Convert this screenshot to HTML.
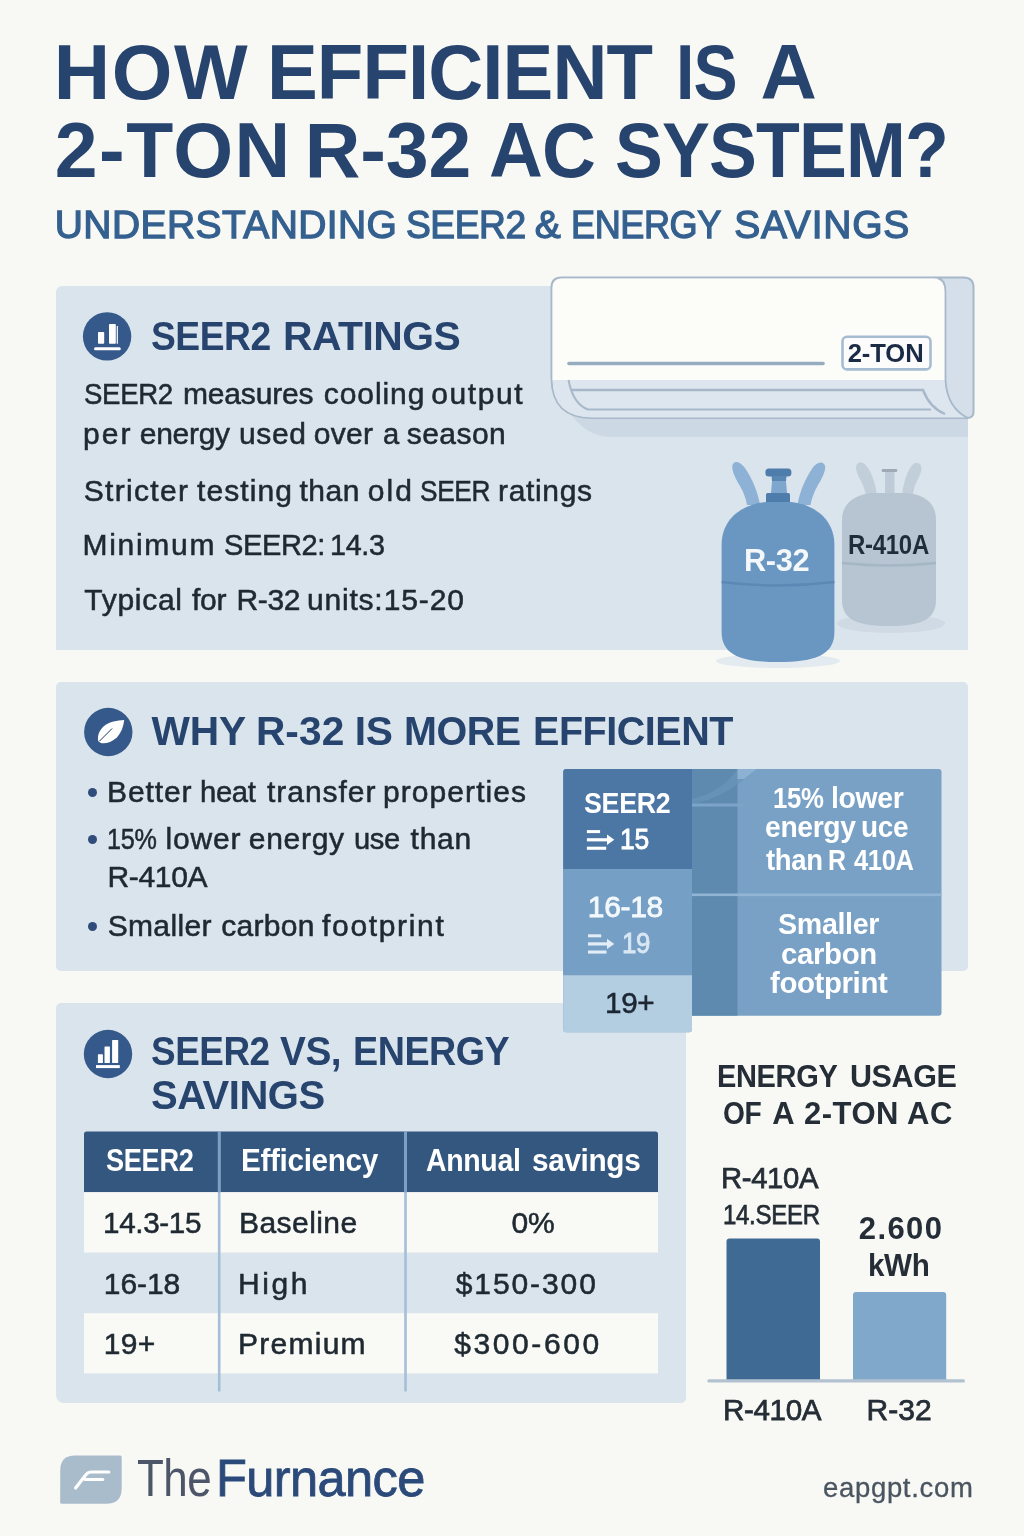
<!DOCTYPE html>
<html lang="en"><head><meta charset="utf-8"><title>How Efficient Is a 2-Ton R-32 AC System?</title>
<style>
html,body{margin:0;padding:0;}
body{width:1024px;height:1536px;background:#f8f8f5;overflow:hidden;position:relative;font-family:"Liberation Sans",sans-serif;}
.t{position:absolute;white-space:nowrap;line-height:1;margin:0;padding:0;}
.p{position:absolute;background:#dae4ec;}
.b{position:absolute;}
svg{position:absolute;left:0;top:0;overflow:visible;}
</style></head><body>
<div class="p" style="left:56.3px;top:286px;width:911.4px;height:363.8px;border-radius:6px 0 0 0;"></div>
<div class="p" style="left:56.3px;top:682px;width:911.4px;height:289.1px;border-radius:5px;"></div>
<div class="p" style="left:56.3px;top:1003.2px;width:629.3px;height:399.8px;border-radius:5px 5px 5px 8px;"></div>
<svg width="1024" height="1536" viewBox="0 0 1024 1536">
<!-- AC unit -->
<path d="M572 416 H968 V437 H612 Q588 437 572 416Z" fill="#ccd8e4"/>
<path d="M561.5 277.5 H963.5 Q973.5 277.5 973.5 287.5 V412 Q973.5 418 967 418 H592 Q552 418 551.5 378 V287.5 Q551.5 277.5 561.5 277.5Z" fill="#d5dfe9" stroke="#a7b8ca" stroke-width="2"/>
<path d="M552.5 380 V288 Q552.5 278.5 562 278.5 H933 Q945 279 945.5 292 V380 Z" fill="#fcfcf9"/>
<path d="M552.5 380 H945.5 Q947 408 968 417.5 H592 Q553 417 552.5 380Z" fill="#dde6ee"/>
<path d="M938.5 278.5 Q945.5 280 945.5 292 V380 Q947 408 968 418" fill="none" stroke="#a7b8ca" stroke-width="1.8"/>
<path d="M568.5 380 Q573 404 588 409.5 H931" fill="none" stroke="#a7b8ca" stroke-width="2"/>
<path d="M571 390 H923 Q930 408 945 414" fill="none" stroke="#a7b8ca" stroke-width="2.4"/>
<path d="M569 363.5 H823" stroke="#97abc1" stroke-width="3.6" stroke-linecap="round"/>
<rect x="842.5" y="336.8" width="88" height="32.6" rx="4.5" fill="#fbfcfb" stroke="#a6bcd2" stroke-width="2.6"/>
<!-- R-410A canister -->
<ellipse cx="891" cy="623.5" rx="54" ry="9.5" fill="#cfdae5"/>
<path d="M859.5 462.5 C853 465, 857 474, 861 481 C864 487, 865 491, 866 496 H877 C876 486, 873 476, 868 468 C865.5 464, 862 461.5, 859.5 462.5Z" fill="#c2cfdb"/>
<path d="M918 463 C924 465, 921 474, 917 481 C914 487, 913.5 491, 913 496 H902 C903 486, 905.5 476, 910 468 C912.5 464, 915.5 462, 918 463Z" fill="#c2cfdb"/>
<rect x="885" y="470" width="9.5" height="24" fill="#bfccd8"/>
<rect x="881.7" y="469" width="15.5" height="3" rx="1" fill="#9fa9b6"/>
<path d="M842 520 C842 500, 860 494, 872 493 H906 C920 494, 936 500, 936 520 V600 C936 620, 920 626, 889 626 C858 626, 842 620, 842 600Z" fill="#b6c5d1"/>
<path d="M842 563 Q889 568 936 563" fill="none" stroke="#a5b6c5" stroke-width="2.6"/>
<!-- R-32 canister -->
<ellipse cx="778" cy="661" rx="62" ry="7" fill="#e3eaf0"/>
<path d="M735 462.3 C729 465, 734 476, 740 486 C744 493, 746 499, 747 505 H760 C758 492, 752 478, 745 468 C742 464, 738 461, 735 462.3Z" fill="#8db2d6"/>
<path d="M822.5 463 C828.5 465.5, 823.5 476, 817.5 486 C813.5 493, 811.5 499, 810.5 505 H797.5 C799.5 492, 805.5 478, 812.5 468 C815.5 464, 819.5 461.5, 822.5 463Z" fill="#8db2d6"/>
<rect x="765.4" y="468.4" width="26" height="8" rx="3.5" fill="#4f7dab"/>
<path d="M772.5 476 H785.5 L787 493 H771Z" fill="#7fa6cc"/>
<path d="M771.5 476 H786.5 L786 481 H772Z" fill="#5a86b3"/>
<rect x="766" y="493" width="24" height="11" rx="1.5" fill="#4f7dab"/>
<path d="M721.6 545 C721.6 515, 748 503, 766 502 H790 C808 503, 834.4 515, 834.4 545 V632 C834.4 655, 815 662, 778 662 C741 662, 721.6 655, 721.6 632Z" fill="#6a97c2"/>
<path d="M721.6 582 Q778 589 834.4 582" fill="none" stroke="#5b88b4" stroke-width="2.6"/>
<!-- icons -->
<circle cx="107.1" cy="336.4" r="24.2" fill="#34598a"/>
<rect x="98" y="332" width="6.2" height="11.8" rx="0.8" fill="#fff"/>
<rect x="109" y="324" width="6.8" height="19.8" rx="0.8" fill="#fff"/>
<rect x="116.7" y="326" width="1.2" height="17.8" fill="#fff"/>
<rect x="94" y="347.2" width="26.8" height="3" rx="1.5" fill="#fff"/>
<circle cx="108.3" cy="732" r="24.2" fill="#34598a"/>
<path d="M98.2 741 C97 735, 100 729.5, 104 726 C109.5 721.5, 117 720.5, 124.2 720 C123.5 727, 121 733, 116.9 737.5 C112 742, 105.5 744, 101.7 743.2 C100 742.8, 99 742, 98.2 741 Z" fill="#fff"/>
<path d="M99.6 741 L111.8 728.8" stroke="#1f3a63" stroke-width="1" stroke-linecap="round"/>
<circle cx="108" cy="1054" r="24.2" fill="#34598a"/>
<rect x="97.9" y="1054.3" width="5" height="8.7" rx="0.6" fill="#fff"/>
<rect x="104.5" y="1046.4" width="5.4" height="16.6" rx="0.6" fill="#fff"/>
<rect x="112.1" y="1040" width="6.1" height="23" rx="0.6" fill="#fff"/>
<rect x="96" y="1065.1" width="23.8" height="3" fill="#fff"/>
</svg>

<div class="t" style="left:53.73px;top:33.37px;font-size:78.00px;letter-spacing:1.625px;color:#27446e;font-weight:700;">HOW</div>
<div class="t" style="left:267.36px;top:33.37px;font-size:78.00px;letter-spacing:-0.936px;color:#27446e;font-weight:700;transform:scaleX(0.9760);transform-origin:0 0;">EFFICIENT</div>
<div class="t" style="left:675.54px;top:33.37px;font-size:78.00px;letter-spacing:-0.936px;color:#27446e;font-weight:700;transform:scaleX(0.8464);transform-origin:0 0;">IS</div>
<div class="t" style="left:760.55px;top:33.37px;font-size:78.00px;letter-spacing:0.000px;color:#27446e;font-weight:700;">A</div>
<div class="t" style="left:54.80px;top:111.82px;font-size:77.00px;letter-spacing:1.435px;color:#27446e;font-weight:700;">2-TON</div>
<div class="t" style="left:304.80px;top:111.82px;font-size:77.00px;letter-spacing:-0.104px;color:#27446e;font-weight:700;">R-32</div>
<div class="t" style="left:489.13px;top:111.82px;font-size:77.00px;letter-spacing:-0.924px;color:#27446e;font-weight:700;transform:scaleX(0.9690);transform-origin:0 0;">AC</div>
<div class="t" style="left:615.35px;top:111.82px;font-size:77.00px;letter-spacing:-0.924px;color:#27446e;font-weight:700;transform:scaleX(0.9321);transform-origin:0 0;">SYSTEM?</div>
<div class="t" style="left:54.78px;top:205.19px;font-size:39.00px;letter-spacing:0.408px;color:#34608f;-webkit-text-stroke:1.3px #34608f;">UNDERSTANDING</div>
<div class="t" style="left:405.83px;top:205.19px;font-size:39.00px;letter-spacing:-0.468px;color:#34608f;-webkit-text-stroke:1.3px #34608f;transform:scaleX(0.9530);transform-origin:0 0;">SEER2</div>
<div class="t" style="left:534.63px;top:205.19px;font-size:39.00px;letter-spacing:0.000px;color:#34608f;-webkit-text-stroke:1.3px #34608f;">&amp;</div>
<div class="t" style="left:570.52px;top:205.19px;font-size:39.00px;letter-spacing:-0.468px;color:#34608f;-webkit-text-stroke:1.3px #34608f;transform:scaleX(0.9258);transform-origin:0 0;">ENERGY</div>
<div class="t" style="left:734.25px;top:205.19px;font-size:39.00px;letter-spacing:0.747px;color:#34608f;-webkit-text-stroke:1.3px #34608f;">SAVINGS</div>
<div class="t" style="left:150.88px;top:316.15px;font-size:41.40px;letter-spacing:-0.497px;color:#27446e;font-weight:700;transform:scaleX(0.8991);transform-origin:0 0;">SEER2</div>
<div class="t" style="left:283.14px;top:316.15px;font-size:41.40px;letter-spacing:-0.497px;color:#27446e;font-weight:700;transform:scaleX(0.9865);transform-origin:0 0;">RATINGS</div>
<div class="t" style="left:83.76px;top:379.11px;font-size:30.00px;letter-spacing:-0.360px;color:#1f2931;-webkit-text-stroke:0.55px #1f2931;transform:scaleX(0.9199);transform-origin:0 0;">SEER2</div>
<div class="t" style="left:182.97px;top:379.11px;font-size:30.00px;letter-spacing:-0.161px;color:#1f2931;-webkit-text-stroke:0.55px #1f2931;">measures</div>
<div class="t" style="left:323.73px;top:379.11px;font-size:30.00px;letter-spacing:0.938px;color:#1f2931;-webkit-text-stroke:0.55px #1f2931;">cooling</div>
<div class="t" style="left:431.23px;top:379.11px;font-size:30.00px;letter-spacing:1.580px;color:#1f2931;-webkit-text-stroke:0.55px #1f2931;">output</div>
<div class="t" style="left:83.05px;top:419.11px;font-size:30.00px;letter-spacing:2.025px;color:#1f2931;-webkit-text-stroke:0.55px #1f2931;">per</div>
<div class="t" style="left:139.72px;top:419.11px;font-size:30.00px;letter-spacing:-0.275px;color:#1f2931;-webkit-text-stroke:0.55px #1f2931;">energy</div>
<div class="t" style="left:239.05px;top:419.11px;font-size:30.00px;letter-spacing:0.600px;color:#1f2931;-webkit-text-stroke:0.55px #1f2931;">used</div>
<div class="t" style="left:313.73px;top:419.11px;font-size:30.00px;letter-spacing:0.292px;color:#1f2931;-webkit-text-stroke:0.55px #1f2931;">over</div>
<div class="t" style="left:382.76px;top:419.11px;font-size:30.00px;letter-spacing:-0.360px;color:#1f2931;-webkit-text-stroke:0.55px #1f2931;transform:scaleX(0.9709);transform-origin:0 0;">a</div>
<div class="t" style="left:406.68px;top:419.11px;font-size:30.00px;letter-spacing:0.465px;color:#1f2931;-webkit-text-stroke:0.55px #1f2931;">season</div>
<div class="t" style="left:83.65px;top:476.11px;font-size:30.00px;letter-spacing:1.325px;color:#1f2931;-webkit-text-stroke:0.55px #1f2931;">Stricter</div>
<div class="t" style="left:197.05px;top:476.11px;font-size:30.00px;letter-spacing:1.079px;color:#1f2931;-webkit-text-stroke:0.55px #1f2931;">testing</div>
<div class="t" style="left:299.55px;top:476.11px;font-size:30.00px;letter-spacing:0.492px;color:#1f2931;-webkit-text-stroke:0.55px #1f2931;">than</div>
<div class="t" style="left:367.73px;top:476.11px;font-size:30.00px;letter-spacing:2.087px;color:#1f2931;-webkit-text-stroke:0.55px #1f2931;">old</div>
<div class="t" style="left:419.82px;top:476.11px;font-size:30.00px;letter-spacing:-0.360px;color:#1f2931;-webkit-text-stroke:0.55px #1f2931;transform:scaleX(0.8738);transform-origin:0 0;">SEER</div>
<div class="t" style="left:498.05px;top:476.11px;font-size:30.00px;letter-spacing:0.654px;color:#1f2931;-webkit-text-stroke:0.55px #1f2931;">ratings</div>
<div class="t" style="left:82.53px;top:530.11px;font-size:30.00px;letter-spacing:1.712px;color:#1f2931;-webkit-text-stroke:0.55px #1f2931;">Minimum</div>
<div class="t" style="left:223.70px;top:530.11px;font-size:30.00px;letter-spacing:-0.360px;color:#1f2931;-webkit-text-stroke:0.55px #1f2931;transform:scaleX(0.9665);transform-origin:0 0;">SEER2:</div>
<div class="t" style="left:330.34px;top:530.11px;font-size:30.00px;letter-spacing:-0.360px;color:#1f2931;-webkit-text-stroke:0.55px #1f2931;transform:scaleX(0.9582);transform-origin:0 0;">14.3</div>
<div class="t" style="left:84.33px;top:584.90px;font-size:30.00px;letter-spacing:0.721px;color:#1f2931;-webkit-text-stroke:0.55px #1f2931;">Typical</div>
<div class="t" style="left:192.05px;top:584.90px;font-size:30.00px;letter-spacing:-0.313px;color:#1f2931;-webkit-text-stroke:0.55px #1f2931;">for</div>
<div class="t" style="left:236.53px;top:584.90px;font-size:30.00px;letter-spacing:-0.350px;color:#1f2931;-webkit-text-stroke:0.55px #1f2931;">R-32</div>
<div class="t" style="left:307.05px;top:584.90px;font-size:30.00px;letter-spacing:0.790px;color:#1f2931;-webkit-text-stroke:0.55px #1f2931;">units:</div>
<div class="t" style="left:383.75px;top:584.90px;font-size:30.00px;letter-spacing:0.863px;color:#1f2931;-webkit-text-stroke:0.55px #1f2931;">15-20</div>
<div class="t" style="left:847.70px;top:340.53px;font-size:25.60px;letter-spacing:-0.082px;color:#1c2b45;font-weight:700;">2-TON</div>
<div class="t" style="left:743.72px;top:545.16px;font-size:31.00px;letter-spacing:-0.372px;color:#f4f8fb;font-weight:700;transform:scaleX(0.9933);transform-origin:0 0;">R-32</div>
<div class="t" style="left:848.18px;top:531.74px;font-size:27.00px;letter-spacing:-0.324px;color:#1f2c3a;font-weight:700;transform:scaleX(0.8882);transform-origin:0 0;">R-410A</div>
<div class="t" style="left:151.50px;top:711.25px;font-size:40.70px;letter-spacing:-0.160px;color:#27446e;font-weight:700;">WHY</div>
<div class="t" style="left:255.95px;top:711.25px;font-size:40.70px;letter-spacing:0.052px;color:#27446e;font-weight:700;">R-32</div>
<div class="t" style="left:354.65px;top:711.25px;font-size:40.70px;letter-spacing:-0.186px;color:#27446e;font-weight:700;">IS</div>
<div class="t" style="left:403.73px;top:711.25px;font-size:40.70px;letter-spacing:-0.488px;color:#27446e;font-weight:700;transform:scaleX(0.9711);transform-origin:0 0;">MORE</div>
<div class="t" style="left:532.73px;top:711.25px;font-size:40.70px;letter-spacing:-0.488px;color:#27446e;font-weight:700;transform:scaleX(0.9712);transform-origin:0 0;">EFFICIENT</div>
<div class="t" style="left:107.03px;top:776.61px;font-size:30.00px;letter-spacing:0.880px;color:#1f2931;-webkit-text-stroke:0.55px #1f2931;">Better</div>
<div class="t" style="left:200.46px;top:776.61px;font-size:30.00px;letter-spacing:-0.360px;color:#1f2931;-webkit-text-stroke:0.55px #1f2931;transform:scaleX(0.9737);transform-origin:0 0;">heat</div>
<div class="t" style="left:267.05px;top:776.61px;font-size:30.00px;letter-spacing:0.957px;color:#1f2931;-webkit-text-stroke:0.55px #1f2931;">transfer</div>
<div class="t" style="left:383.05px;top:776.61px;font-size:30.00px;letter-spacing:1.064px;color:#1f2931;-webkit-text-stroke:0.55px #1f2931;">properties</div>
<div class="t" style="left:107.11px;top:824.00px;font-size:30.00px;letter-spacing:-0.360px;color:#1f2931;-webkit-text-stroke:0.55px #1f2931;transform:scaleX(0.8385);transform-origin:0 0;">15%</div>
<div class="t" style="left:165.47px;top:824.00px;font-size:30.00px;letter-spacing:0.819px;color:#1f2931;-webkit-text-stroke:0.55px #1f2931;">lower</div>
<div class="t" style="left:248.72px;top:824.00px;font-size:30.00px;letter-spacing:0.725px;color:#1f2931;-webkit-text-stroke:0.55px #1f2931;">energy</div>
<div class="t" style="left:354.11px;top:824.00px;font-size:30.00px;letter-spacing:-0.360px;color:#1f2931;-webkit-text-stroke:0.55px #1f2931;transform:scaleX(0.9695);transform-origin:0 0;">use</div>
<div class="t" style="left:410.55px;top:824.00px;font-size:30.00px;letter-spacing:0.758px;color:#1f2931;-webkit-text-stroke:0.55px #1f2931;">than</div>
<div class="t" style="left:107.53px;top:861.81px;font-size:30.00px;letter-spacing:-0.330px;color:#1f2931;-webkit-text-stroke:0.55px #1f2931;">R-410A</div>
<div class="t" style="left:107.65px;top:910.81px;font-size:30.00px;letter-spacing:0.350px;color:#1f2931;-webkit-text-stroke:0.55px #1f2931;">Smaller</div>
<div class="t" style="left:221.22px;top:910.81px;font-size:30.00px;letter-spacing:0.285px;color:#1f2931;-webkit-text-stroke:0.55px #1f2931;">carbon</div>
<div class="t" style="left:322.05px;top:910.81px;font-size:30.00px;letter-spacing:1.663px;color:#1f2931;-webkit-text-stroke:0.55px #1f2931;">footprint</div>
<div class="b" style="left:87.9px;top:787.5px;width:9.4px;height:9.4px;border-radius:50%;background:#2f4c7a;"></div>
<div class="b" style="left:87.9px;top:834.5px;width:9.4px;height:9.4px;border-radius:50%;background:#2f4c7a;"></div>
<div class="b" style="left:87.9px;top:921.6px;width:9.4px;height:9.4px;border-radius:50%;background:#2f4c7a;"></div>
<svg width="1024" height="1536" viewBox="0 0 1024 1536">
<path d="M563.2 772 Q563.2 769 566.2 769 H938.5 Q941.5 769 941.5 772 V1012.7 Q941.5 1015.7 938.5 1015.7 H692 V1029.3 Q692 1032.3 689 1032.3 H566.2 Q563.2 1032.3 563.2 1029.3Z" fill="#79a1c5"/>
<rect x="692" y="769" width="45.5" height="246.7" fill="#5e8ab0"/>
<path d="M563.2 772 Q563.2 769 566.2 769 H692 V869 H563.2Z" fill="#4c77a5"/>
<rect x="563.2" y="869" width="128.8" height="106.2" fill="#759fc4"/>
<path d="M563.2 975.2 H692 V1029.3 Q692 1032.3 689 1032.3 H566.2 Q563.2 1032.3 563.2 1029.3Z" fill="#b3cde1"/>
<path d="M692 803.5 Q722 800 757 769 L737.5 769 Q722 792 692 799Z" fill="#6a95bb" opacity="0.7"/>
<path d="M737.5 769 H757 L744 779 H737.5Z" fill="#8db1d2"/>
<rect x="692" y="803.5" width="52" height="3" fill="#7ca3c8"/>
<rect x="692" y="893.5" width="249.5" height="2.6" fill="#92b5d5"/>
<g fill="#fff">
<rect x="586.9" y="830.1" width="13.2" height="3"/>
<rect x="586.9" y="838.2" width="21" height="3.2"/>
<path d="M607 834.6 L614.3 839.8 L607 845Z"/>
<rect x="586.9" y="846.7" width="19.3" height="3.1"/>
</g>
<g fill="#e3edf6">
<rect x="588" y="934.3" width="13.2" height="3"/>
<rect x="588" y="942.3" width="20" height="3.2"/>
<path d="M607 938.7 L614.3 943.9 L607 949.1Z"/>
<rect x="588" y="950.5" width="18.5" height="3.1"/>
</g>
</svg>

<div class="t" style="left:584.40px;top:788.40px;font-size:30.00px;letter-spacing:-0.360px;color:#ffffff;font-weight:700;transform:scaleX(0.8939);transform-origin:0 0;">SEER2</div>
<div class="t" style="left:620.02px;top:824.11px;font-size:30.00px;letter-spacing:-0.360px;color:#ffffff;-webkit-text-stroke:0.85px #ffffff;transform:scaleX(0.8817);transform-origin:0 0;">15</div>
<div class="t" style="left:587.75px;top:891.61px;font-size:30.00px;letter-spacing:-0.300px;color:#f3f8fc;-webkit-text-stroke:0.85px #f3f8fc;">16-18</div>
<div class="t" style="left:622.06px;top:928.11px;font-size:30.00px;letter-spacing:-0.360px;color:#d9e7f3;-webkit-text-stroke:0.85px #d9e7f3;transform:scaleX(0.8623);transform-origin:0 0;">19</div>
<div class="t" style="left:604.77px;top:987.61px;font-size:30.00px;letter-spacing:-0.360px;color:#1c2733;-webkit-text-stroke:0.55px #1c2733;transform:scaleX(0.9902);transform-origin:0 0;">19+</div>
<div class="t" style="left:772.69px;top:783.21px;font-size:30.00px;letter-spacing:-0.360px;color:#ffffff;font-weight:700;transform:scaleX(0.8596);transform-origin:0 0;">15%</div>
<div class="t" style="left:830.61px;top:783.21px;font-size:30.00px;letter-spacing:-0.360px;color:#ffffff;font-weight:700;transform:scaleX(0.9464);transform-origin:0 0;">lower</div>
<div class="t" style="left:764.67px;top:812.00px;font-size:30.00px;letter-spacing:-0.360px;color:#ffffff;font-weight:700;transform:scaleX(0.9425);transform-origin:0 0;">energy</div>
<div class="t" style="left:860.75px;top:812.00px;font-size:30.00px;letter-spacing:-0.360px;color:#ffffff;font-weight:700;transform:scaleX(0.9313);transform-origin:0 0;">uce</div>
<div class="t" style="left:766.36px;top:844.50px;font-size:30.00px;letter-spacing:-0.360px;color:#ffffff;font-weight:700;transform:scaleX(0.9160);transform-origin:0 0;">than</div>
<div class="t" style="left:828.31px;top:844.50px;font-size:30.00px;letter-spacing:-0.360px;color:#ffffff;font-weight:700;transform:scaleX(0.8327);transform-origin:0 0;">R</div>
<div class="t" style="left:854.22px;top:844.50px;font-size:30.00px;letter-spacing:-0.360px;color:#ffffff;font-weight:700;transform:scaleX(0.8494);transform-origin:0 0;">410A</div>
<div class="t" style="left:778.14px;top:908.71px;font-size:30.00px;letter-spacing:-0.360px;color:#ffffff;font-weight:700;transform:scaleX(0.9548);transform-origin:0 0;">Smaller</div>
<div class="t" style="left:781.32px;top:938.61px;font-size:30.00px;letter-spacing:-0.360px;color:#ffffff;font-weight:700;transform:scaleX(0.9792);transform-origin:0 0;">carbon</div>
<div class="t" style="left:769.69px;top:967.90px;font-size:30.00px;letter-spacing:-0.360px;color:#ffffff;font-weight:700;transform:scaleX(0.9781);transform-origin:0 0;">footprint</div>
<div class="t" style="left:151.09px;top:1031.14px;font-size:40.00px;letter-spacing:-0.480px;color:#27446e;font-weight:700;transform:scaleX(0.9211);transform-origin:0 0;">SEER2</div>
<div class="t" style="left:279.81px;top:1031.14px;font-size:40.00px;letter-spacing:-0.480px;color:#27446e;font-weight:700;transform:scaleX(0.9696);transform-origin:0 0;">VS,</div>
<div class="t" style="left:352.66px;top:1031.14px;font-size:40.00px;letter-spacing:-0.480px;color:#27446e;font-weight:700;transform:scaleX(0.9411);transform-origin:0 0;">ENERGY</div>
<div class="t" style="left:151.00px;top:1075.04px;font-size:40.00px;letter-spacing:-0.480px;color:#27446e;font-weight:700;transform:scaleX(0.9993);transform-origin:0 0;">SAVINGS</div>
<svg width="1024" height="1536" viewBox="0 0 1024 1536">
<path d="M84 1134 Q84 1131.5 86.5 1131.5 H655.5 Q658 1131.5 658 1134 V1192.2 H84Z" fill="#34577f"/>
<rect x="84" y="1192.2" width="574" height="60.4" fill="#f9f9f6"/>
<rect x="84" y="1313.2" width="574" height="60.2" fill="#f9f9f6"/>
<rect x="217.9" y="1131.5" width="2.6" height="260" fill="#a6bfd8"/>
<rect x="404.2" y="1131.5" width="2.6" height="260" fill="#a6bfd8"/>
<rect x="217.9" y="1131.5" width="2.6" height="60.7" fill="#7b9fc5"/>
<rect x="404.2" y="1131.5" width="2.6" height="60.7" fill="#7b9fc5"/>
</svg>

<div class="t" style="left:106.19px;top:1144.76px;font-size:31.00px;letter-spacing:-0.372px;color:#ffffff;font-weight:700;transform:scaleX(0.8763);transform-origin:0 0;">SEER2</div>
<div class="t" style="left:240.99px;top:1144.76px;font-size:31.00px;letter-spacing:-0.372px;color:#ffffff;font-weight:700;transform:scaleX(0.9588);transform-origin:0 0;">Efficiency</div>
<div class="t" style="left:426.19px;top:1144.76px;font-size:31.00px;letter-spacing:-0.372px;color:#ffffff;font-weight:700;transform:scaleX(0.9191);transform-origin:0 0;">Annual</div>
<div class="t" style="left:531.96px;top:1144.76px;font-size:31.00px;letter-spacing:-0.372px;color:#ffffff;font-weight:700;transform:scaleX(0.9599);transform-origin:0 0;">savings</div>
<div class="t" style="left:103.18px;top:1207.90px;font-size:30.00px;letter-spacing:-0.360px;color:#1f2931;-webkit-text-stroke:0.55px #1f2931;transform:scaleX(0.9887);transform-origin:0 0;">14.3-15</div>
<div class="t" style="left:238.93px;top:1207.90px;font-size:30.00px;letter-spacing:0.457px;color:#1f2931;-webkit-text-stroke:0.55px #1f2931;">Baseline</div>
<div class="t" style="left:511.40px;top:1208.11px;font-size:30.00px;letter-spacing:0.000px;color:#1f2931;-webkit-text-stroke:0.55px #1f2931;">0%</div>
<div class="t" style="left:103.75px;top:1269.40px;font-size:30.00px;letter-spacing:-0.050px;color:#1f2931;-webkit-text-stroke:0.55px #1f2931;">16-18</div>
<div class="t" style="left:238.12px;top:1269.40px;font-size:30.00px;letter-spacing:2.533px;color:#1f2931;-webkit-text-stroke:0.55px #1f2931;">High</div>
<div class="t" style="left:455.70px;top:1269.40px;font-size:30.00px;letter-spacing:1.911px;color:#1f2931;-webkit-text-stroke:0.55px #1f2931;">$150-300</div>
<div class="t" style="left:103.75px;top:1329.20px;font-size:30.00px;letter-spacing:0.313px;color:#1f2931;-webkit-text-stroke:0.55px #1f2931;">19+</div>
<div class="t" style="left:238.12px;top:1329.20px;font-size:30.00px;letter-spacing:1.238px;color:#1f2931;-webkit-text-stroke:0.55px #1f2931;">Premium</div>
<div class="t" style="left:454.20px;top:1329.20px;font-size:30.00px;letter-spacing:2.596px;color:#1f2931;-webkit-text-stroke:0.55px #1f2931;">$300-600</div>
<svg width="1024" height="1536" viewBox="0 0 1024 1536">
<path d="M726.5 1241.6 Q726.5 1238.6 729.5 1238.6 H817 Q820 1238.6 820 1241.6 V1380 H726.5Z" fill="#3f6a94"/>
<path d="M853 1295 Q853 1292 856 1292 H943.2 Q946.2 1292 946.2 1295 V1380 H853Z" fill="#7fa8cb"/>
<rect x="707.3" y="1379.3" width="257.7" height="3.2" rx="1.6" fill="#b3c2d0"/>
</svg>

<div class="t" style="left:716.74px;top:1061.26px;font-size:31.00px;letter-spacing:-0.372px;color:#252d36;font-weight:700;transform:scaleX(0.9359);transform-origin:0 0;">ENERGY</div>
<div class="t" style="left:850.17px;top:1061.26px;font-size:31.00px;letter-spacing:-0.372px;color:#252d36;font-weight:700;transform:scaleX(0.9821);transform-origin:0 0;">USAGE</div>
<div class="t" style="left:722.87px;top:1097.96px;font-size:31.00px;letter-spacing:-0.372px;color:#252d36;font-weight:700;transform:scaleX(0.9078);transform-origin:0 0;">OF</div>
<div class="t" style="left:772.23px;top:1097.96px;font-size:31.00px;letter-spacing:0.000px;color:#252d36;font-weight:700;">A</div>
<div class="t" style="left:803.91px;top:1097.96px;font-size:31.00px;letter-spacing:0.530px;color:#252d36;font-weight:700;">2-TON</div>
<div class="t" style="left:907.02px;top:1097.96px;font-size:31.00px;letter-spacing:0.533px;color:#252d36;font-weight:700;">AC</div>
<div class="t" style="left:720.89px;top:1162.81px;font-size:30.00px;letter-spacing:-0.360px;color:#252d36;-webkit-text-stroke:0.75px #252d36;transform:scaleX(0.9748);transform-origin:0 0;">R-410A</div>
<div class="t" style="left:723.20px;top:1200.27px;font-size:28.50px;letter-spacing:-0.342px;color:#252d36;-webkit-text-stroke:0.75px #252d36;transform:scaleX(0.8418);transform-origin:0 0;">14.SEER</div>
<div class="t" style="left:858.71px;top:1213.46px;font-size:31.00px;letter-spacing:1.437px;color:#252d36;font-weight:700;">2.600</div>
<div class="t" style="left:868.43px;top:1249.76px;font-size:31.00px;letter-spacing:-0.372px;color:#252d36;font-weight:700;transform:scaleX(0.9549);transform-origin:0 0;">kWh</div>
<div class="t" style="left:723.36px;top:1395.20px;font-size:30.00px;letter-spacing:-0.360px;color:#252d36;-webkit-text-stroke:0.75px #252d36;transform:scaleX(0.9851);transform-origin:0 0;">R-410A</div>
<div class="t" style="left:866.52px;top:1395.20px;font-size:30.00px;letter-spacing:0.050px;color:#252d36;-webkit-text-stroke:0.75px #252d36;">R-32</div>
<div class="t" style="left:823.03px;top:1474.12px;font-size:27.50px;letter-spacing:0.674px;color:#4a5560;-webkit-text-stroke:0.3px #4a5560;">eapgpt.com</div>
<svg width="1024" height="1536" viewBox="0 0 1024 1536">
<path d="M75.2 1455.5 H120.2 Q121.7 1455.5 121.7 1457 V1488.2 Q121.7 1503.8 106.1 1503.8 H61.7 Q60.2 1503.8 60.2 1502.3 V1470.5 Q60.2 1455.5 75.2 1455.5Z" fill="#a9bccb"/>
<path d="M108.8 1472 H91 Q88 1472 86.3 1474.2 L75.6 1488" fill="none" stroke="#fff" stroke-width="3.2" stroke-linecap="round" stroke-linejoin="round"/>
<path d="M85 1479.4 H102.8" fill="none" stroke="#fff" stroke-width="3" stroke-linecap="round"/>
</svg>

<div class="t" style="left:137.41px;top:1451.58px;font-size:52.00px;letter-spacing:-0.624px;color:#4d5668;transform:scaleX(0.8453);transform-origin:0 0;">The</div>
<div class="t" style="left:216.33px;top:1451.58px;font-size:52.00px;letter-spacing:-0.624px;color:#2b4a7a;-webkit-text-stroke:0.8px #2b4a7a;transform:scaleX(0.9727);transform-origin:0 0;">Furnance</div>
</body></html>
